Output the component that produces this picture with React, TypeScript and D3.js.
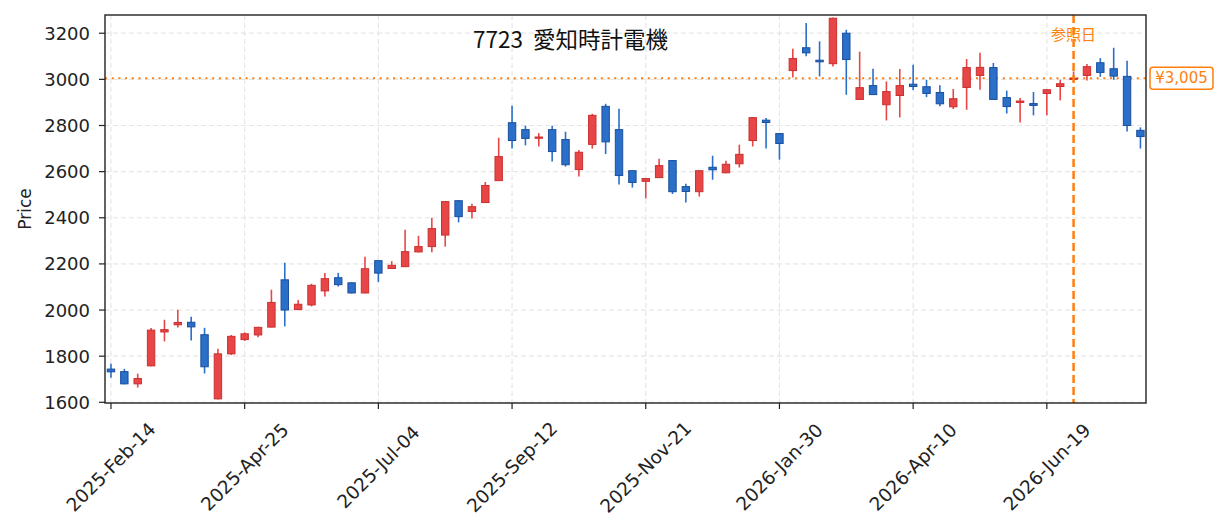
import React from "react";
import * as d3 from "d3";

const W = 1225;
const H = 532;
const margin = { top: 15, right: 79, bottom: 129, left: 105 };

const TITLE = "7723\u00a0\u00a0愛知時計電機";
const REF_LABEL = "参照日";
const REF_DATE = "2026-07-03";
const CURRENT_PRICE = 3005;

// weekly bars (week ending Friday)
const dates = [
  "2025-02-14", "2025-02-21", "2025-02-28", "2025-03-07", "2025-03-14", "2025-03-21", "2025-03-28",
  "2025-04-04", "2025-04-11", "2025-04-18", "2025-04-25", "2025-05-02", "2025-05-09", "2025-05-16",
  "2025-05-23", "2025-05-30", "2025-06-06", "2025-06-13", "2025-06-20", "2025-06-27", "2025-07-04",
  "2025-07-11", "2025-07-18", "2025-07-25", "2025-08-01", "2025-08-08", "2025-08-15", "2025-08-22",
  "2025-08-29", "2025-09-05", "2025-09-12", "2025-09-19", "2025-09-26", "2025-10-03", "2025-10-10",
  "2025-10-17", "2025-10-24", "2025-10-31", "2025-11-07", "2025-11-14", "2025-11-21", "2025-11-28",
  "2025-12-05", "2025-12-12", "2025-12-19", "2025-12-26", "2026-01-02", "2026-01-09", "2026-01-16",
  "2026-01-23", "2026-01-30", "2026-02-06", "2026-02-13", "2026-02-20", "2026-02-27", "2026-03-06",
  "2026-03-13", "2026-03-20", "2026-03-27", "2026-04-03", "2026-04-10", "2026-04-17", "2026-04-24",
  "2026-05-01", "2026-05-08", "2026-05-15", "2026-05-22", "2026-05-29", "2026-06-05", "2026-06-12",
  "2026-06-19", "2026-06-26", "2026-07-03", "2026-07-10", "2026-07-17", "2026-07-24", "2026-07-31",
  "2026-08-07",
];

const open = [
  1744, 1733, 1680, 1758, 1905, 1936, 1947, 1893, 1615, 1810, 1872, 1892, 1926, 2131, 2002, 2022,
  2083, 2140, 2118, 2074, 2214, 2180, 2188, 2252, 2275, 2325, 2474, 2427, 2466, 2561, 2812, 2782,
  2747, 2782, 2739, 2609, 2718, 2883, 2782, 2604, 2558, 2574, 2648, 2535, 2513, 2619, 2595, 2634,
  2735, 2823, 2765, 3038, 3137, 3083, 3068, 3200, 2913, 2973, 2890, 2930, 2979, 2968, 2943, 2881,
  2965, 3017, 3051, 2921, 2900, 2895, 2939, 2969, 3000, 3017, 3072, 3046, 3013, 2779,
];
const high = [
  1767, 1745, 1724, 1922, 1958, 2001, 1971, 1923, 1832, 1892, 1903, 1928, 2088, 2205, 2044, 2114,
  2161, 2161, 2120, 2231, 2215, 2212, 2348, 2322, 2400, 2472, 2476, 2461, 2555, 2747, 2886, 2799,
  2767, 2799, 2773, 2694, 2851, 2894, 2873, 2606, 2572, 2656, 2650, 2547, 2606, 2669, 2647, 2717,
  2836, 2833, 2767, 3133, 3244, 3165, 3268, 3215, 3120, 3046, 2991, 3045, 3063, 2998, 2975, 2958,
  3088, 3115, 3071, 2951, 2919, 2945, 2957, 2998, 3034, 3067, 3092, 3137, 3081, 2792,
];
const low = [
  1707, 1678, 1664, 1756, 1864, 1924, 1868, 1725, 1612, 1805, 1866, 1882, 1925, 1929, 2000, 2016,
  2059, 2102, 2072, 2073, 2122, 2178, 2187, 2250, 2250, 2275, 2380, 2397, 2465, 2560, 2700, 2714,
  2709, 2644, 2622, 2579, 2700, 2676, 2544, 2531, 2484, 2573, 2503, 2466, 2492, 2565, 2593, 2618,
  2709, 2700, 2652, 3008, 3100, 3013, 3056, 2933, 2912, 2932, 2822, 2835, 2954, 2923, 2883, 2871,
  2868, 2955, 2912, 2852, 2813, 2844, 2844, 2909, 2990, 2995, 3011, 2998, 2774, 2700,
];
const close = [
  1732, 1680, 1703, 1913, 1915, 1946, 1927, 1754, 1810, 1886, 1897, 1925, 2033, 2000, 2025, 2107,
  2136, 2110, 2074, 2179, 2160, 2194, 2253, 2275, 2353, 2470, 2405, 2448, 2540, 2665, 2735, 2744,
  2750, 2687, 2630, 2684, 2844, 2729, 2583, 2553, 2570, 2626, 2513, 2514, 2604, 2608, 2632, 2675,
  2834, 2813, 2722, 3090, 3115, 3076, 3265, 3086, 2964, 2934, 2947, 2973, 2969, 2939, 2894, 2916,
  3051, 3052, 2913, 2882, 2906, 2887, 2955, 2981, 3005, 3055, 3030, 3014, 2800, 2752,
];

const xTicks = [
  "2025-02-14", "2025-04-25", "2025-07-04", "2025-09-12",
  "2025-11-21", "2026-01-30", "2026-04-10", "2026-06-19",
];
const yTicks = [1600, 1800, 2000, 2200, 2400, 2600, 2800, 3000, 3200];

const UP_FILL = "#e84646";
const UP_EDGE = "#c9302f";
const DOWN_FILL = "#2a6fc8";
const DOWN_EDGE = "#1b4e9e";
const ORANGE = "#ff7f0e";
const CJK = "'Noto Sans CJK JP', sans-serif";
const LATIN = "'DejaVu Sans', 'Noto Sans CJK JP', sans-serif";

const parse = d3.utcParse("%Y-%m-%d");
const fmt = d3.utcFormat("%Y-%b-%d");

export default function App() {
  const x0 = margin.left;
  const x1 = W - margin.right;
  const y0 = margin.top;
  const y1 = H - margin.bottom;

  const first = parse(dates[0])!;
  const last = parse(dates[dates.length - 1])!;
  const x = d3
    .scaleUtc()
    .domain([d3.utcHour.offset(first, -75), d3.utcHour.offset(last, 70)])
    .range([x0, x1]);
  const y = d3.scaleLinear().domain([1597, 3279]).range([y1, y0]);

  const bodyW = 7.4;
  const candles = dates.map((d, i) => ({
    t: parse(d)!,
    o: open[i],
    h: high[i],
    l: low[i],
    c: close[i],
  }));

  const refX = x(parse(REF_DATE)!);
  const priceY = y(CURRENT_PRICE);

  return (
    <svg
      width={W}
      height={H}
      style={{ position: "absolute", left: 0, top: 0, background: "#fff" }}
      fontFamily={LATIN}
    >
      <defs>
        <clipPath id="plot">
          <rect x={x0} y={y0} width={x1 - x0} height={y1 - y0} />
        </clipPath>
      </defs>
      <rect x={0} y={0} width={W} height={H} fill="#fff" />

      {/* grid */}
      <g stroke="#e6e6e6" strokeWidth={1.2} strokeDasharray="5,3">
        {yTicks.map((v) => (
          <line key={"gy" + v} x1={x0} x2={x1} y1={y(v)} y2={y(v)} />
        ))}
        {xTicks.map((d) => (
          <line key={"gx" + d} x1={x(parse(d)!)} x2={x(parse(d)!)} y1={y0} y2={y1} />
        ))}
      </g>

      {/* current price line */}
      <line
        x1={x0}
        x2={x1}
        y1={priceY}
        y2={priceY}
        stroke={ORANGE}
        strokeWidth={2}
        strokeDasharray="2,4.7"
      />

      {/* candles */}
      <g clipPath="url(#plot)">
        {candles.map((k, i) => {
          const up = k.c >= k.o;
          const cx = x(k.t);
          const top = y(Math.max(k.o, k.c));
          const bot = y(Math.min(k.o, k.c));
          return (
            <g key={i}>
              <line
                x1={cx}
                x2={cx}
                y1={y(k.h)}
                y2={y(k.l)}
                stroke={up ? UP_FILL : DOWN_FILL}
                strokeWidth={1.6}
              />
              <rect
                x={cx - bodyW / 2}
                y={top}
                width={bodyW}
                height={Math.max(bot - top, 1.2)}
                fill={up ? UP_FILL : DOWN_FILL}
                stroke={up ? UP_EDGE : DOWN_EDGE}
                strokeWidth={1}
              />
            </g>
          );
        })}
      </g>

      {/* reference date */}
      <line
        x1={refX}
        x2={refX}
        y1={y0}
        y2={y1}
        stroke={ORANGE}
        strokeWidth={2.5}
        strokeDasharray="8,4"
      />
      <text x={refX} y={40} textAnchor="middle" fontSize={15} fill={ORANGE} fontFamily={CJK}>
        {REF_LABEL}
      </text>

      {/* frame */}
      <rect
        x={x0}
        y={y0}
        width={x1 - x0}
        height={y1 - y0}
        fill="none"
        stroke="#222"
        strokeWidth={1.4}
      />

      {/* y axis */}
      <g fontSize={18} fill="#222">
        {yTicks.map((v) => (
          <g key={"yt" + v}>
            <line x1={x0 - 6} x2={x0} y1={y(v)} y2={y(v)} stroke="#222" strokeWidth={1.2} />
            <text x={x0 - 15} y={y(v)} textAnchor="end" dominantBaseline="central">
              {v}
            </text>
          </g>
        ))}
      </g>
      <text
        transform={`translate(25,${(y0 + y1) / 2}) rotate(-90)`}
        textAnchor="middle"
        dominantBaseline="central"
        fontSize={17}
        fill="#222"
      >
        Price
      </text>

      {/* x axis */}
      <g fontSize={18.5} fill="#222">
        {xTicks.map((d) => {
          const tx = x(parse(d)!);
          return (
            <g key={"xt" + d}>
              <line x1={tx} x2={tx} y1={y1} y2={y1 + 6} stroke="#222" strokeWidth={1.2} />
              <text
                transform={`translate(${tx},${y1 + 64}) rotate(-45)`}
                textAnchor="middle"
                dominantBaseline="central"
              >
                {fmt(parse(d)!)}
              </text>
            </g>
          );
        })}
      </g>

      {/* title */}
      <text x={473} y={48} textAnchor="start" fontSize={22.5} fill="#111" fontFamily={CJK}>
        {TITLE}
      </text>

      {/* price label */}
      <rect
        x={x1 + 4}
        y={priceY - 11}
        width={63}
        height={22}
        rx={3}
        fill="#fff"
        stroke={ORANGE}
        strokeWidth={1.5}
      />
      <text
        x={x1 + 35.5}
        y={priceY}
        textAnchor="middle"
        dominantBaseline="central"
        fontSize={15}
        fill={ORANGE}
      >
        {"¥" + d3.format(",")(CURRENT_PRICE)}
      </text>
    </svg>
  );
}
